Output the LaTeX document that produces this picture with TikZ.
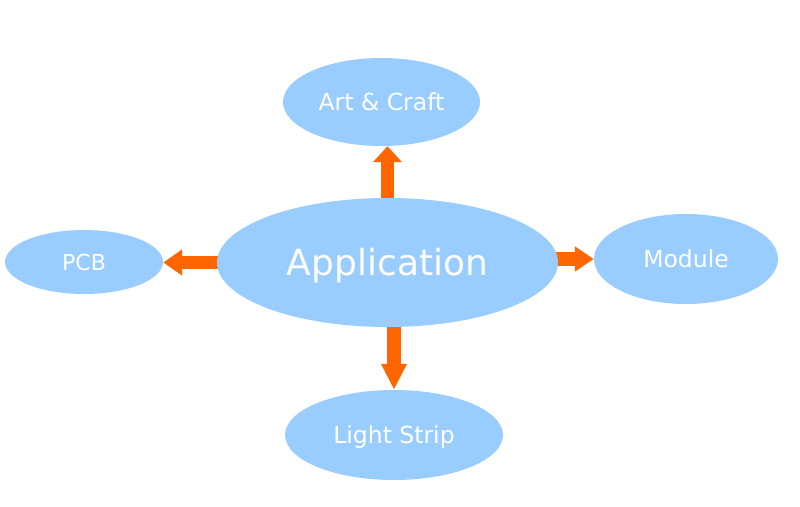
\documentclass[tikz,border=0pt]{standalone}
\usepackage{fontspec}
\setmainfont{DejaVu Sans}
\usetikzlibrary{shapes.geometric,arrows.meta,backgrounds}
\definecolor{bubble}{HTML}{99CCFF}
\definecolor{arrowor}{HTML}{FF6600}
\tikzset{
  bub/.style={ellipse, fill=bubble, draw=none, inner sep=0pt, text=white, text depth=0pt},
  small/.style={bub, font=\fontsize{23.5}{26}\selectfont, text height=17pt},
  blockarrow/.style={draw=arrowor, line width=13.5pt}
}
\begin{document}
\begin{tikzpicture}[x=1pt,y=-1pt]
\useasboundingbox (0,0) rectangle (800,506);
\node[bub, minimum width=341pt, minimum height=129pt, font=\fontsize{36}{40}\selectfont, text height=26.5pt] (app) at (387.5,262.5) {Application};
\node[small, minimum width=197pt, minimum height=88pt] (art) at (381.5,102) {Art \& Craft};
\node[small, minimum width=158pt, minimum height=64pt, font=\fontsize{22}{24}\selectfont, text height=16pt] (pcb) at (84,262) {PCB};
\node[small, minimum width=184pt, minimum height=90pt] (mod) at (686,259) {Module};
\node[small, minimum width=218pt, minimum height=90pt] (light) at (394,435) {Light Strip};
\begin{scope}[on background layer]
\draw[blockarrow, -{Triangle[width=28pt,length=16pt]}] (app.center) -- (art.south -| app.center);
\draw[blockarrow, line width=12.5pt, -{Triangle[width=25pt,length=19pt]}] (app.center) -- (pcb.east |- app.center);
\draw[blockarrow, -{Triangle[width=24pt,length=19pt]}] (app.center |- mod.west) -- (mod.west);
\draw[blockarrow, -{Triangle[width=24pt,length=26pt]}] (app.center -| light.north) -- (light.north);
\end{scope}
\end{tikzpicture}
\end{document}
